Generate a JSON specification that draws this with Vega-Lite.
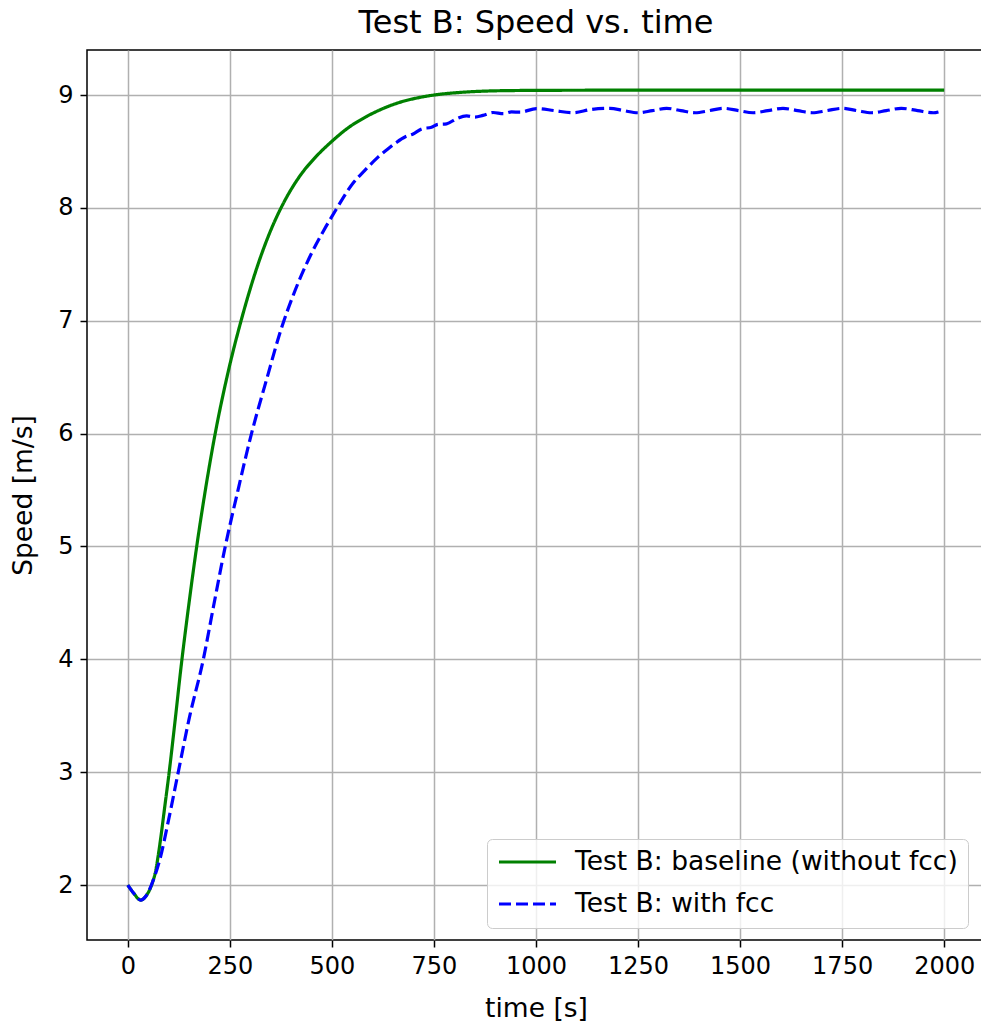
{
  "$schema": "https://vega.github.io/schema/vega-lite/v6.json",
  "autosize": "none",
  "width": 898,
  "height": 890,
  "padding": {"left": 87, "top": 50, "right": 0, "bottom": 84},
  "title": {"text": "Test B: Speed vs. time", "fontSize": 32, "font": "DejaVu Sans", "fontWeight": "normal", "frame": "group", "anchor": "middle", "offset": 10, "color": "black"},
  "data": {"values": [
    {"series": "Test B: baseline (without fcc)", "t": 0, "v": 2.0},
    {"series": "Test B: baseline (without fcc)", "t": 15, "v": 1.925},
    {"series": "Test B: baseline (without fcc)", "t": 31, "v": 1.867},
    {"series": "Test B: baseline (without fcc)", "t": 45, "v": 1.905},
    {"series": "Test B: baseline (without fcc)", "t": 62, "v": 2.04},
    {"series": "Test B: baseline (without fcc)", "t": 68, "v": 2.12},
    {"series": "Test B: baseline (without fcc)", "t": 74, "v": 2.25},
    {"series": "Test B: baseline (without fcc)", "t": 80, "v": 2.4},
    {"series": "Test B: baseline (without fcc)", "t": 90, "v": 2.68},
    {"series": "Test B: baseline (without fcc)", "t": 101, "v": 2.99},
    {"series": "Test B: baseline (without fcc)", "t": 115, "v": 3.43},
    {"series": "Test B: baseline (without fcc)", "t": 131, "v": 3.95},
    {"series": "Test B: baseline (without fcc)", "t": 150, "v": 4.5},
    {"series": "Test B: baseline (without fcc)", "t": 168, "v": 4.98},
    {"series": "Test B: baseline (without fcc)", "t": 190, "v": 5.5},
    {"series": "Test B: baseline (without fcc)", "t": 213, "v": 5.98},
    {"series": "Test B: baseline (without fcc)", "t": 246, "v": 6.55},
    {"series": "Test B: baseline (without fcc)", "t": 279, "v": 7.02},
    {"series": "Test B: baseline (without fcc)", "t": 319, "v": 7.5},
    {"series": "Test B: baseline (without fcc)", "t": 350, "v": 7.8},
    {"series": "Test B: baseline (without fcc)", "t": 381, "v": 8.04},
    {"series": "Test B: baseline (without fcc)", "t": 421, "v": 8.28},
    {"series": "Test B: baseline (without fcc)", "t": 460, "v": 8.45},
    {"series": "Test B: baseline (without fcc)", "t": 500, "v": 8.59},
    {"series": "Test B: baseline (without fcc)", "t": 540, "v": 8.71},
    {"series": "Test B: baseline (without fcc)", "t": 585, "v": 8.81},
    {"series": "Test B: baseline (without fcc)", "t": 625, "v": 8.88},
    {"series": "Test B: baseline (without fcc)", "t": 666, "v": 8.935},
    {"series": "Test B: baseline (without fcc)", "t": 710, "v": 8.975},
    {"series": "Test B: baseline (without fcc)", "t": 750, "v": 9.0},
    {"series": "Test B: baseline (without fcc)", "t": 810, "v": 9.022},
    {"series": "Test B: baseline (without fcc)", "t": 870, "v": 9.034},
    {"series": "Test B: baseline (without fcc)", "t": 950, "v": 9.04},
    {"series": "Test B: baseline (without fcc)", "t": 1050, "v": 9.042},
    {"series": "Test B: baseline (without fcc)", "t": 1250, "v": 9.043},
    {"series": "Test B: baseline (without fcc)", "t": 1500, "v": 9.043},
    {"series": "Test B: baseline (without fcc)", "t": 1750, "v": 9.043},
    {"series": "Test B: baseline (without fcc)", "t": 2000, "v": 9.043},
    {"series": "Test B: with fcc", "t": 0, "v": 2.0},
    {"series": "Test B: with fcc", "t": 15, "v": 1.925},
    {"series": "Test B: with fcc", "t": 31, "v": 1.867},
    {"series": "Test B: with fcc", "t": 45, "v": 1.905},
    {"series": "Test B: with fcc", "t": 62, "v": 2.04},
    {"series": "Test B: with fcc", "t": 78, "v": 2.22},
    {"series": "Test B: with fcc", "t": 100, "v": 2.58},
    {"series": "Test B: with fcc", "t": 123, "v": 2.99},
    {"series": "Test B: with fcc", "t": 150, "v": 3.47},
    {"series": "Test B: with fcc", "t": 185, "v": 4.0},
    {"series": "Test B: with fcc", "t": 210, "v": 4.47},
    {"series": "Test B: with fcc", "t": 237, "v": 4.97},
    {"series": "Test B: with fcc", "t": 270, "v": 5.5},
    {"series": "Test B: with fcc", "t": 303, "v": 6.0},
    {"series": "Test B: with fcc", "t": 340, "v": 6.48},
    {"series": "Test B: with fcc", "t": 376, "v": 6.93},
    {"series": "Test B: with fcc", "t": 410, "v": 7.27},
    {"series": "Test B: with fcc", "t": 445, "v": 7.56},
    {"series": "Test B: with fcc", "t": 480, "v": 7.8},
    {"series": "Test B: with fcc", "t": 511, "v": 7.99},
    {"series": "Test B: with fcc", "t": 552, "v": 8.22},
    {"series": "Test B: with fcc", "t": 580, "v": 8.33},
    {"series": "Test B: with fcc", "t": 613, "v": 8.45},
    {"series": "Test B: with fcc", "t": 640, "v": 8.53},
    {"series": "Test B: with fcc", "t": 658, "v": 8.58},
    {"series": "Test B: with fcc", "t": 680, "v": 8.63},
    {"series": "Test B: with fcc", "t": 699, "v": 8.655},
    {"series": "Test B: with fcc", "t": 720, "v": 8.7},
    {"series": "Test B: with fcc", "t": 744, "v": 8.715},
    {"series": "Test B: with fcc", "t": 760, "v": 8.74},
    {"series": "Test B: with fcc", "t": 781, "v": 8.745},
    {"series": "Test B: with fcc", "t": 805, "v": 8.79},
    {"series": "Test B: with fcc", "t": 830, "v": 8.815},
    {"series": "Test B: with fcc", "t": 850, "v": 8.805},
    {"series": "Test B: with fcc", "t": 870, "v": 8.82},
    {"series": "Test B: with fcc", "t": 895, "v": 8.845},
    {"series": "Test B: with fcc", "t": 920, "v": 8.835},
    {"series": "Test B: with fcc", "t": 940, "v": 8.85},
    {"series": "Test B: with fcc", "t": 961, "v": 8.848},
    {"series": "Test B: with fcc", "t": 1001, "v": 8.88},
    {"series": "Test B: with fcc", "t": 1045, "v": 8.862},
    {"series": "Test B: with fcc", "t": 1090, "v": 8.843},
    {"series": "Test B: with fcc", "t": 1135, "v": 8.872},
    {"series": "Test B: with fcc", "t": 1181, "v": 8.882},
    {"series": "Test B: with fcc", "t": 1215, "v": 8.862},
    {"series": "Test B: with fcc", "t": 1250, "v": 8.843},
    {"series": "Test B: with fcc", "t": 1285, "v": 8.862},
    {"series": "Test B: with fcc", "t": 1320, "v": 8.882},
    {"series": "Test B: with fcc", "t": 1355, "v": 8.862},
    {"series": "Test B: with fcc", "t": 1390, "v": 8.843},
    {"series": "Test B: with fcc", "t": 1425, "v": 8.862},
    {"series": "Test B: with fcc", "t": 1460, "v": 8.882},
    {"series": "Test B: with fcc", "t": 1496, "v": 8.862},
    {"series": "Test B: with fcc", "t": 1532, "v": 8.843},
    {"series": "Test B: with fcc", "t": 1568, "v": 8.862},
    {"series": "Test B: with fcc", "t": 1605, "v": 8.882},
    {"series": "Test B: with fcc", "t": 1641, "v": 8.862},
    {"series": "Test B: with fcc", "t": 1677, "v": 8.843},
    {"series": "Test B: with fcc", "t": 1713, "v": 8.862},
    {"series": "Test B: with fcc", "t": 1750, "v": 8.882},
    {"series": "Test B: with fcc", "t": 1786, "v": 8.862},
    {"series": "Test B: with fcc", "t": 1822, "v": 8.843},
    {"series": "Test B: with fcc", "t": 1858, "v": 8.862},
    {"series": "Test B: with fcc", "t": 1895, "v": 8.882},
    {"series": "Test B: with fcc", "t": 1935, "v": 8.862},
    {"series": "Test B: with fcc", "t": 1974, "v": 8.843},
    {"series": "Test B: with fcc", "t": 1986, "v": 8.85}
  ]},
  "mark": {"type": "line", "interpolate": "monotone", "strokeWidth": 3.2, "clip": true},
  "encoding": {
    "x": {"field": "t", "type": "quantitative",
      "scale": {"domain": [-100, 2100], "nice": false, "zero": false},
      "axis": {"title": "time [s]", "values": [0, 250, 500, 750, 1000, 1250, 1500, 1750, 2000], "format": "d", "titlePadding": 17}},
    "y": {"field": "v", "type": "quantitative",
      "scale": {"domain": [1.513, 9.399], "nice": false, "zero": false},
      "axis": {"title": "Speed [m/s]", "values": [2, 3, 4, 5, 6, 7, 8, 9], "format": "d", "titlePadding": 20}},
    "color": {"field": "series", "type": "nominal",
      "scale": {"domain": ["Test B: baseline (without fcc)", "Test B: with fcc"], "range": ["#008000", "#0000ff"]},
      "legend": {"title": null}},
    "strokeDash": {"field": "series", "type": "nominal",
      "scale": {"domain": ["Test B: baseline (without fcc)", "Test B: with fcc"], "range": [[1, 0], [12, 5]]},
      "legend": {"title": null}}
  },
  "config": {
    "font": "DejaVu Sans",
    "background": "white",
    "view": {"stroke": "black", "strokeWidth": 1.5},
    "axis": {
      "labelFont": "DejaVu Sans", "titleFont": "DejaVu Sans",
      "labelFontSize": 24, "titleFontSize": 26.5, "titleFontWeight": "normal",
      "labelColor": "black", "titleColor": "black",
      "domain": false, "tickColor": "black", "tickSize": 7, "tickWidth": 1.5,
      "labelPadding": 7,
      "grid": true, "gridColor": "#b0b0b0", "gridWidth": 1.5
    },
    "legend": {
      "orient": "none", "legendX": 400, "legendY": 789,
      "labelFont": "DejaVu Sans", "labelFontSize": 26.5, "labelColor": "black", "labelLimit": 600,
      "symbolType": "stroke", "symbolSize": 3249, "symbolStrokeWidth": 3.2,
      "labelOffset": 17, "clipHeight": 26,
      "fillColor": "rgba(255,255,255,0.8)", "strokeColor": "#cccccc", "cornerRadius": 5,
      "padding": 10, "rowPadding": 15
    }
  }
}
